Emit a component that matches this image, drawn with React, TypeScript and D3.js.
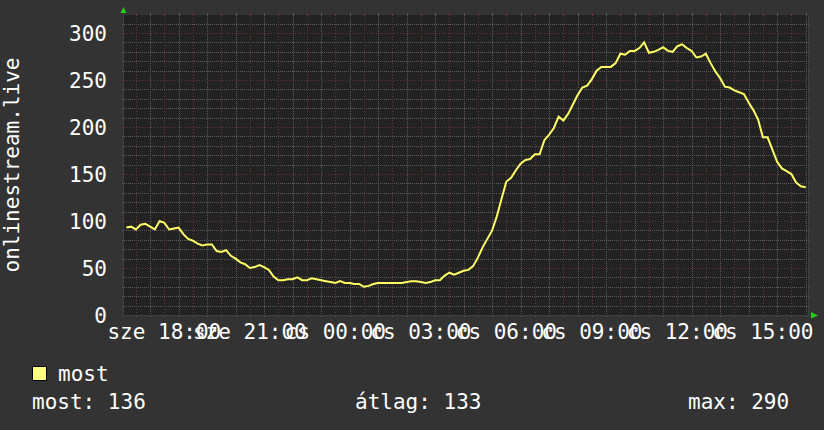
import React, { useEffect } from "react";
import * as d3 from "d3";

// ---- data (10-minute samples, 16:40 Wed -> 16:30 Thu) ----
const seriesName = "most";
const yAxisTitle = "onlinestream.live";
const values: number[] = [
  93, 94, 91, 96, 97, 94, 91, 100, 98, 91,
  92, 93, 86, 81, 79, 76, 74, 75, 75, 68,
  67, 69, 63, 60, 56, 54, 50, 51, 53, 51,
  48, 41, 37, 37, 38, 38, 40, 37, 37, 39,
  38, 37, 36, 35, 34, 36, 34, 34, 33, 33,
  30, 31, 33, 34, 34, 34, 34, 34, 34, 35,
  36, 36, 35, 34, 35, 37, 37, 42, 45, 43,
  45, 47, 48, 52, 61, 72, 81, 90, 105, 124,
  142, 146, 154, 161, 165, 166, 171, 171, 186, 192,
  199, 211, 207, 214, 224, 234, 242, 244, 251, 260,
  264, 264, 264, 268, 278, 277, 281, 281, 284, 290,
  279, 280, 282, 285, 281, 280, 286, 288, 284, 281,
  274, 275, 278, 268, 259, 252, 243, 242, 239, 237,
  235, 226, 218, 208, 189, 189, 176, 163, 156, 153,
  150, 141, 137, 136,
];
const yTicks = [0, 50, 100, 150, 200, 250, 300];
const dayAbbr = ["v", "h", "k", "sze", "cs", "p", "szo"];
const legendLabels = ["most:", "átlag:", "max:"];
const legendValues = ["136", "133", "290"];

const W = 824;
const H = 430;
const FONT = "'DejaVu Sans Mono', monospace";
const FS = 21;

export default function App() {
  useEffect(() => {
    document.body.style.margin = "0";
  }, []);

  const t0 = new Date(2024, 0, 3, 16, 35);
  const t1 = new Date(2024, 0, 4, 16, 35);
  const firstSample = new Date(2024, 0, 3, 16, 40);
  const data = values.map((v, i) => ({ t: d3.timeMinute.offset(firstSample, i * 10), v }));

  const x = d3.scaleTime().domain([t0, t1]).range([124, 808]);
  const y = d3.scaleLinear().domain([0, 319.2]).range([315, 15]);

  const minorX = d3.timeMinute.every(30)!.range(t0, t1);
  const majorX = d3.timeHour.every(1)!.range(t0, t1);
  const labelX = d3.timeHour.every(3)!.range(t0, t1);
  const minorY = d3.range(10, 320, 10);
  const fmt = d3.timeFormat("%H:%M");

  const line = d3
    .line<{ t: Date; v: number }>()
    .x((d) => x(d.t))
    .y((d) => y(d.v))
    .curve(d3.curveLinear);

  const gridGrey = "#5a5a5a";
  const gridRed = "#6e3838";
  const [x0, x1] = x.range();
  const [yb, yt] = y.range();
  const px = (v: number) => Math.round(v) + 0.5;

  return (
    <svg
      width={W}
      height={H}
      style={{ position: "absolute", left: 0, top: 0, display: "block" }}
      fontFamily={FONT}
    >
      <rect x={0} y={0} width={W} height={H} fill="#333333" />
      <rect x={x0} y={yt} width={x1 - x0} height={yb - yt} fill="#222222" />

      {/* minor grid */}
      {minorY.filter((v) => v % 50 !== 0).map((v) => (
        <g key={"my" + v}>
          <line x1={x0} x2={x1} y1={px(y(v))} y2={px(y(v))} stroke={gridGrey} strokeDasharray="1,1" />
          <line x1={x0 - 2} x2={x0} y1={px(y(v))} y2={px(y(v))} stroke={gridGrey} />
          <line x1={x1} x2={x1 + 2} y1={px(y(v))} y2={px(y(v))} stroke={gridGrey} />
        </g>
      ))}
      {minorX.filter((d) => d.getMinutes() !== 0).map((d, i) => (
        <g key={"mx" + i}>
          <line x1={px(x(d))} x2={px(x(d))} y1={yt} y2={yb} stroke={gridGrey} strokeDasharray="1,1" />
          <line x1={px(x(d))} x2={px(x(d))} y1={yb} y2={yb + 2} stroke={gridGrey} />
          <line x1={px(x(d))} x2={px(x(d))} y1={yt - 2} y2={yt} stroke={gridGrey} />
        </g>
      ))}
      {/* major grid */}
      {yTicks.filter((v) => v > 0).map((v) => (
        <g key={"My" + v}>
          <line x1={x0} x2={x1} y1={px(y(v))} y2={px(y(v))} stroke={gridRed} strokeDasharray="1,2" />
          <line x1={x0 - 2} x2={x0} y1={px(y(v))} y2={px(y(v))} stroke={gridRed} />
          <line x1={x1} x2={x1 + 2} y1={px(y(v))} y2={px(y(v))} stroke={gridRed} />
        </g>
      ))}
      {majorX.map((d, i) => (
        <g key={"Mx" + i}>
          <line x1={px(x(d))} x2={px(x(d))} y1={yt} y2={yb} stroke={gridRed} strokeDasharray="1,2" />
          <line x1={px(x(d))} x2={px(x(d))} y1={yb} y2={yb + 2} stroke={gridRed} />
          <line x1={px(x(d))} x2={px(x(d))} y1={yt - 2} y2={yt} stroke={gridRed} />
        </g>
      ))}

      {/* axes */}
      <line x1={x0 - 0.5} x2={x0 - 0.5} y1={yb + 2} y2={11} stroke="#404040" />
      <line x1={x0 - 2} x2={x1 + 4} y1={yb + 0.5} y2={yb + 0.5} stroke="#404040" />
      <line x1={x1 + 0.5} x2={x1 + 0.5} y1={yt} y2={yb} stroke="#404040" />
      <path d={`M${x0 - 3.5},13 L${x0 + 2.5},13 L${x0 - 0.5},7 Z`} fill="#1fd01f" />
      <path d={`M${x1 + 3},${yb - 3} L${x1 + 3},${yb + 3.5} L${x1 + 10},${yb + 0.5} Z`} fill="#1fd01f" />

      {/* series */}
      <path d={line(data) || ""} fill="none" stroke="#ffff66" strokeWidth={2} strokeLinejoin="miter" />

      {/* y labels */}
      {yTicks.map((v) => (
        <text key={"yl" + v} x={107} y={y(v) + 7.6} textAnchor="end" fontSize={FS} fill="#ffffff">
          {v}
        </text>
      ))}
      {/* x labels */}
      {labelX.map((d, i) => (
        <text key={"xl" + i} x={x(d)} y={339} textAnchor="middle" fontSize={FS} fill="#ffffff">
          {`${dayAbbr[d.getDay()]} ${fmt(d)}`}
        </text>
      ))}
      {/* y title */}
      <text
        transform={`translate(19,${(yt + yb) / 2}) rotate(-90)`}
        textAnchor="middle"
        fontSize={FS}
        fill="#ffffff"
      >
        {yAxisTitle}
      </text>

      {/* legend */}
      <rect x={32.5} y={366.5} width={14} height={14} fill="#ffff80" stroke="#000000" strokeWidth={1} />
      <text x={58} y={381} fontSize={FS} fill="#ffffff">
        {seriesName}
      </text>
      <text x={32} y={409} fontSize={FS} fill="#ffffff">{`${legendLabels[0]} ${legendValues[0]}`}</text>
      <text x={355} y={409} fontSize={FS} fill="#ffffff">{`${legendLabels[1]} ${legendValues[1]}`}</text>
      <text x={688} y={409} fontSize={FS} fill="#ffffff">{`${legendLabels[2]} ${legendValues[2]}`}</text>
    </svg>
  );
}
